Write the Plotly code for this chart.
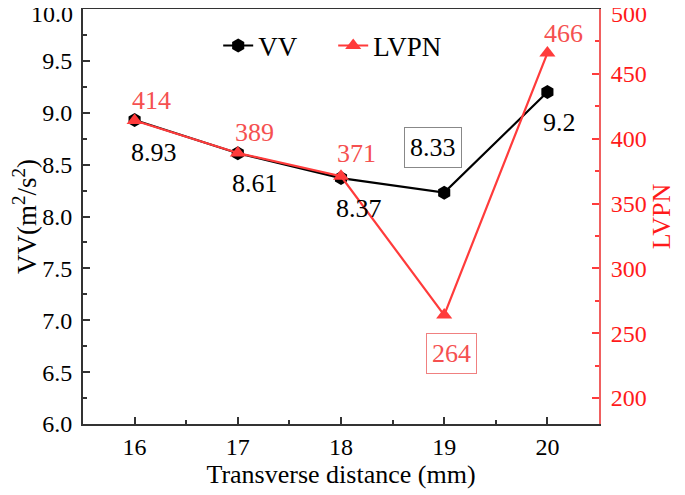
import plotly.graph_objects as go

# transverse distance (mm)
distance = [16, 17, 18, 19, 20]
# VV (m^2/s^2) as plotted, and the labels printed beside each point
vv = [8.93, 8.61, 8.37, 8.23, 9.2]
vv_labels = ["8.93", "8.61", "8.37", "8.33", "9.2"]
# LVPN
lvpn = [414, 389, 371, 264, 466]
lvpn_labels = ["414", "389", "371", "264", "466"]
# axis ticks
vv_ticks = [6.0, 6.5, 7.0, 7.5, 8.0, 8.5, 9.0, 9.5, 10.0]
lvpn_ticks = [200, 250, 300, 350, 400, 450, 500]

BLACK = "#000000"
RED = "#ff3b3b"
RED_TXT = "#ff1a1a"
FONT = "Liberation Serif"

fig = go.Figure()
fig.add_trace(go.Scatter(
    x=distance, y=vv, mode="lines+markers", name="VV",
    line=dict(color=BLACK, width=2.2),
    marker=dict(symbol="hexagon", size=14, color=BLACK),
))
fig.add_trace(go.Scatter(
    x=distance, y=lvpn, mode="lines+markers", name="LVPN", yaxis="y2",
    line=dict(color=RED, width=2.2),
    marker=dict(symbol="triangle-up", size=14, color=RED),
))

# label offsets in pixels (from the point), boxes only on the 19 mm labels
vv_shift = [(19, -32), (17, -30), (18, -30), (-11, 45), (12, -30)]
lvpn_shift = [(17, 20), (17, 20), (15, 23), (7, -38), (16, 20)]

for i, x in enumerate(distance):
    boxed = x == 19
    fig.add_annotation(
        x=x, y=vv[i], xref="x", yref="y", text=vv_labels[i], showarrow=False,
        xshift=vv_shift[i][0], yshift=vv_shift[i][1],
        font=dict(family=FONT, size=26, color=BLACK),
        bordercolor="#888888" if boxed else None, borderwidth=1 if boxed else 0,
        borderpad=5,
    )
    fig.add_annotation(
        x=x, y=lvpn[i], xref="x", yref="y2", text=lvpn_labels[i], showarrow=False,
        xshift=lvpn_shift[i][0], yshift=lvpn_shift[i][1],
        font=dict(family=FONT, size=26, color="#f55050"),
        bordercolor="#f08080" if boxed else None, borderwidth=1 if boxed else 0,
        borderpad=5,
    )

# top tick labels sit at the very edge of the page: draw them a bit lower
fig.add_annotation(
    x=0, xref="paper", y=vv_ticks[-1], yref="y", text=f"{vv_ticks[-1]:.1f}",
    showarrow=False, xanchor="right", yanchor="middle", xshift=-9, yshift=-5,
    borderpad=0, font=dict(family=FONT, size=24, color=BLACK),
)
fig.add_annotation(
    x=1, xref="paper", y=lvpn_ticks[-1], yref="y2", text=str(lvpn_ticks[-1]),
    showarrow=False, xanchor="left", yanchor="middle", xshift=11, yshift=-5,
    borderpad=0, font=dict(family=FONT, size=24, color=RED_TXT),
)

# the page adds an 8px body margin, so the figure is 8px smaller each way
fig.update_layout(
    width=677, height=487,
    margin=dict(l=75, r=86, t=1, b=71),
    paper_bgcolor="white", plot_bgcolor="white",
    font=dict(family=FONT, size=24, color=BLACK),
    showlegend=True,
    legend=dict(
        orientation="h", x=0.262, y=0.97, xanchor="left", yanchor="top",
        bgcolor="rgba(0,0,0,0)", font=dict(family=FONT, size=27, color=BLACK),
        entrywidth=70, entrywidthmode="pixels",
    ),
    xaxis=dict(
        range=[15.5, 20.5], tickmode="array", tickvals=distance,
        ticks="inside", ticklen=7, tickwidth=1.5, tickcolor="#333",
        minor=dict(ticks="inside", ticklen=4, dtick=0.5, tickwidth=1.5, tickcolor="#333"),
        showline=True, linecolor="#333", linewidth=2, mirror=True,
        showgrid=False, zeroline=False, automargin=False,
        title=dict(text="Transverse distance (mm)", font=dict(size=26), standoff=6),
        tickfont=dict(size=24),
    ),
    yaxis=dict(
        range=[6.0, 10.0], tickmode="array", tickvals=vv_ticks[:-1], tickformat=".1f",
        ticks="inside", ticklen=7, tickwidth=1.5, tickcolor="#333",
        minor=dict(ticks="inside", ticklen=4, dtick=0.25, tickwidth=1.5, tickcolor="#333"),
        showline=True, linecolor="#333", linewidth=2,
        showgrid=False, zeroline=False, automargin=False, ticklabelstandoff=4,
        title=dict(text="VV(m<sup>2</sup>/s<sup>2</sup>)", font=dict(size=27), standoff=4),
        tickfont=dict(size=24),
    ),
    yaxis2=dict(
        overlaying="y", side="right", range=[180, 500],
        tickmode="array", tickvals=lvpn_ticks[:-1],
        ticks="inside", ticklen=7, tickwidth=1.5, tickcolor=RED,
        minor=dict(ticks="inside", ticklen=4, dtick=25, tickwidth=1.5, tickcolor=RED),
        showline=True, linecolor="#f06060", linewidth=2,
        showgrid=False, zeroline=False, automargin=False, ticklabelstandoff=5,
        title=dict(text="LVPN", font=dict(size=26, color=RED_TXT), standoff=6),
        tickfont=dict(size=24, color=RED_TXT),
    ),
)

fig.write_html("out.html")
